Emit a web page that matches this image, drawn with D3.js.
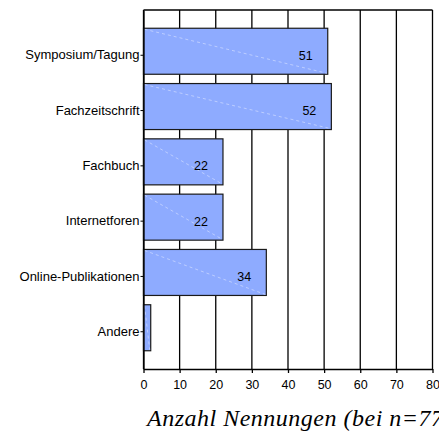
<!DOCTYPE html>
<html>
<head>
<meta charset="utf-8">
<script src="https://cdn.jsdelivr.net/npm/d3@7"></script>
<style>
  body { margin: 0; background: #fff; }
  svg { display: block; }
</style>
</head>
<body>
<svg id="chart" width="439" height="431"></svg>
<script>
// data
const categories = ['Symposium/Tagung', 'Fachzeitschrift', 'Fachbuch', 'Internetforen', 'Online-Publikationen', 'Andere'];
const counts = [51, 52, 22, 22, 34, 2];
const xTicks = [0, 10, 20, 30, 40, 50, 60, 70, 80];
const axisTitle = 'Anzahl Nennungen (bei n=77)';

const svg = d3.select('#chart');
const plotLeft = 143.5, plotRight = 432.5, plotTop = 10, plotBottom = 369;

let x = d3.scaleLinear().domain([0, 80]).range([plotLeft, plotRight]);
let y = d3.scaleBand().domain(categories).range([plotTop, plotBottom])
    .paddingInner(0.168).paddingOuter(0.33);

// vertical grid lines + frame
svg.append('g').selectAll('line').data(xTicks).join('line')
    .attr('x1', d => x(d)).attr('x2', d => x(d))
    .attr('y1', plotTop).attr('y2', plotBottom)
    .attr('stroke', '#000').attr('stroke-width', 1.3);
svg.append('line')
    .attr('x1', plotLeft).attr('x2', plotRight).attr('y1', plotTop).attr('y2', plotTop)
    .attr('stroke', '#000').attr('stroke-width', 1.3);

// bars
let bars = svg.append('g').selectAll('g').data(categories).join('g');
bars.append('rect')
    .attr('x', x(0))
    .attr('y', d => y(d))
    .attr('width', (d, i) => x(counts[i]) - x(0))
    .attr('height', y.bandwidth())
    .attr('fill', '#8eabff')
    .attr('stroke', '#1a1a1a')
    .attr('stroke-width', 1.2);
// faint diagonal highlight from the gradient fill
bars.append('line')
    .attr('x1', x(0) + 1)
    .attr('y1', d => y(d) + 1)
    .attr('x2', (d, i) => x(counts[i]) - 1)
    .attr('y2', d => y(d) + y.bandwidth() - 1)
    .attr('stroke', '#c8d6ff')
    .attr('stroke-width', 0.8)
    .attr('stroke-dasharray', '3,3');
bars.filter((d, i) => counts[i] > 5).append('text')
    .attr('x', (d, i) => x(counts[i]) - 22)
    .attr('y', d => y(d) + y.bandwidth() / 2 + 4)
    .attr('dy', '0.35em')
    .attr('text-anchor', 'middle')
    .attr('font-family', 'Liberation Sans, Arial, sans-serif')
    .attr('font-size', 12.5)
    .attr('fill', '#000')
    .text((d, i) => counts[i]);

// y axis
let yAxis = svg.append('g')
    .attr('transform', 'translate(' + plotLeft + ',0)')
    .call(d3.axisLeft(y).tickSize(3).tickPadding(1).tickSizeOuter(0));
yAxis.select('.domain').attr('stroke', '#000').attr('stroke-width', 1.3);
yAxis.selectAll('.tick').attr('transform', d => 'translate(0,' + (y(d) + y.bandwidth() / 2 + 4) + ')');
yAxis.selectAll('.tick text')
    .attr('font-family', 'Liberation Sans, Arial, sans-serif')
    .attr('font-size', 13)
    .attr('fill', '#000');

// x axis
let xAxis = svg.append('g')
    .attr('transform', 'translate(0,' + plotBottom + ')')
    .call(d3.axisBottom(x).tickValues(xTicks).tickSize(4).tickPadding(7).tickSizeOuter(0));
xAxis.select('.domain').attr('stroke', '#000').attr('stroke-width', 1.3);
xAxis.selectAll('.tick line').attr('stroke', '#000').attr('stroke-width', 1.3);
xAxis.selectAll('.tick text')
    .attr('font-family', 'Liberation Sans, Arial, sans-serif')
    .attr('font-size', 12.5)
    .attr('fill', '#000');

// axis title runs past the right edge, as in the original
svg.append('text')
    .attr('x', 147)
    .attr('y', 426)
    .attr('font-family', 'Liberation Serif, Times New Roman, serif')
    .attr('font-style', 'italic')
    .attr('font-size', 24)
    .attr('letter-spacing', 0.5)
    .attr('fill', '#000')
    .text(axisTitle);
</script>
</body>
</html>
